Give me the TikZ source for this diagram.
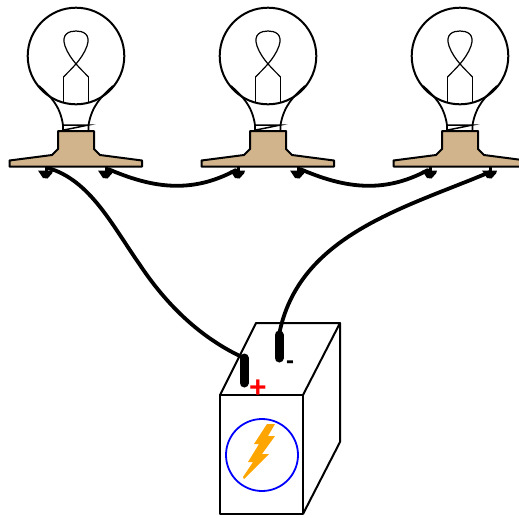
\documentclass[tikz,border=0pt]{standalone}
\usepackage{fontspec}
\setmainfont{Liberation Sans}
\tikzset{
  x=1pt,y=-1pt,
  outline/.style={draw=black,line width=2pt,line join=round},
  neck/.style={draw=black,line width=1.8pt,line join=round},
  thin outline/.style={draw=black,line width=1.2pt},
  wire/.style={draw=black,line width=3.8pt,line cap=round},
  post/.style={draw=black,line width=9pt,line cap=round}
}
\newcommand{\bulb}[1]{
\begin{scope}[xshift=#1pt]
  \draw[outline] (76,56) circle (48.3);
  \draw[neck] (39,86) .. controls (50,96) and (60,105) .. (63,125) -- (63,131);
  \draw[neck] (113,86) .. controls (102,96) and (92,105) .. (88.5,125) -- (88.5,131);
  \draw[thin outline,line width=1.5pt] (63,125) -- (88.5,125) -- (64,130);
  \draw[thin outline] (63.5,77) .. controls (70,70) and (82,60) .. (87,46) .. controls (91,34) and (83,31) .. (76,31) .. controls (69,31) and (61,34) .. (65,46) .. controls (70,60) and (82,70) .. (88.5,77);
  \draw[neck] (63.5,77) -- (63.5,102) (88.5,77) -- (88.5,102);
  \draw[outline,fill={rgb,255:red,210;green,180;blue,140}] (58,131) -- (94,131) -- (94,149) -- (100,155) -- (142,160.5) -- (142,166.5) -- (9.5,166.5) -- (9.5,160.5) -- (52,155) -- (58,149) -- cycle;
  \fill (45,166) rectangle (48,172);
  \fill (38,170.5) -- (53,170.5) -- (52,173.5) -- (47.5,178.5) -- (43,178) -- cycle;
  \fill (105,166) rectangle (108,172);
  \fill (98,170.5) -- (113,170.5) -- (112,173.5) -- (107.5,178.5) -- (103,178) -- cycle;
\end{scope}}
\begin{document}
\begin{tikzpicture}
\useasboundingbox (0,0) rectangle (519,517);
\clip (0,0) rectangle (519,517);
\bulb{0}
\bulb{192}
\bulb{384}
\coordinate (t1) at (48,168);
\coordinate (t2) at (108,169);
\coordinate (t3) at (236,170);
\coordinate (t4) at (300,169);
\coordinate (t5) at (428,170);
\coordinate (t6) at (490,172);
% battery
\draw[outline] (220,395) rectangle (303,514);
\draw[outline] (220,395) -- (256,323) -- (340,323) -- (303,395);
\draw[outline] (340,323) -- (340,442) -- (303,514);
\coordinate (pa) at (244,358);
\coordinate (pb) at (244,383);
\coordinate (na) at (279,335);
\coordinate (nb) at (279,358);
\draw[wire] (t1) .. controls (90,180) and (112,225) .. (140,265) .. controls (170,310) and (205,340) .. (pa);
\draw[wire] (t2) .. controls (150,187) and (190,195) .. (t3);
\draw[wire] (t4) .. controls (342,187) and (382,195) .. (t5);
\draw[wire] (t6) .. controls (405,208) and (298,235) .. (na);
\draw[post] (pa) -- (pb);
\draw[post] (na) -- (nb);
\node[text=red,font=\bfseries\fontsize{30}{30}\selectfont,inner sep=0pt] (plus) at (258,388.5) {+};
\node[font=\bfseries\fontsize{24}{24}\selectfont,inner sep=0pt] (minus) at (290,365) {-};
\draw[draw=blue,line width=1.8pt] (262,455) circle (36);
\fill[fill={rgb,255:red,255;green,165;blue,0}] (267,424) -- (275,424) -- (268,436) -- (275,436) -- (262,454) -- (269,454) -- (244,479) -- (243,477) -- (253,462) -- (248,462) -- (259,444) -- (254,444) -- cycle;
\end{tikzpicture}
\end{document}
